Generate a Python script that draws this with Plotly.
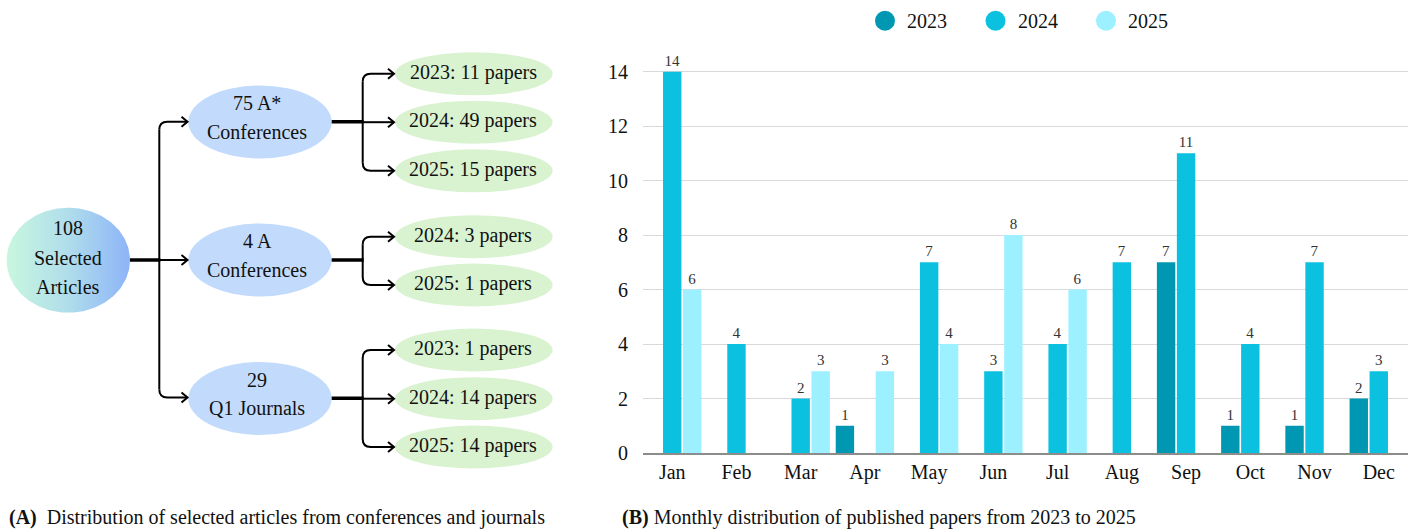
import plotly.graph_objects as go
import numpy as np

W, H = 1417, 529
FONT = "Liberation Serif"

# ---- monthly counts (panel B) ----
months = ["Jan", "Feb", "Mar", "Apr", "May", "Jun", "Jul", "Aug", "Sep", "Oct", "Nov", "Dec"]
papers_2023 = [0, 0, 0, 1, 0, 0, 0, 0, 7, 1, 1, 2]
papers_2024 = [14, 4, 2, 0, 7, 3, 4, 7, 11, 4, 7, 3]
papers_2025 = [6, 0, 3, 3, 4, 8, 6, 0, 0, 0, 0, 0]
year_names = ["2023", "2024", "2025"]
year_colors = ["#0097B2", "#0CC0DF", "#9DF0FF"]

# ---- venue breakdown (panel A) ----
astar_years = ["2023", "2024", "2025"]
astar_papers = [11, 49, 15]
a_years = ["2024", "2025"]
a_papers = [3, 1]
q1_years = ["2023", "2024", "2025"]
q1_papers = [1, 14, 14]

fig = go.Figure()

# grouped bars
for name, vals, col in zip(year_names, [papers_2023, papers_2024, papers_2025], year_colors):
    fig.add_trace(go.Bar(
        x=months,
        y=[v if v else None for v in vals],
        text=[str(v) if v else "" for v in vals],
        textposition="outside",
        textfont=dict(family=FONT, size=15, color="#333333"),
        marker=dict(color=col, line=dict(width=0)),
        cliponaxis=False,
        name=name,
        showlegend=False,
        xaxis="x", yaxis="y",
    ))

shapes = []
annotations = []

# legend (circles + labels)
leg_x0, leg_dx, leg_y = 885, 110.5, 20.7
for i, (name, col) in enumerate(zip(year_names, year_colors)):
    cx = leg_x0 + i * leg_dx
    shapes.append(dict(type="circle", xref="x2", yref="y2", x0=cx - 10, x1=cx + 10,
                       y0=leg_y - 10, y1=leg_y + 10, fillcolor=col, line=dict(width=0)))
    annotations.append(dict(x=cx + 20, y=leg_y, xref="x2", yref="y2", text=name,
                            showarrow=False, xanchor="left", yanchor="middle",
                            font=dict(family=FONT, size=20, color="#111111")))

# ---- diagram ----
def ellipse(cx, cy, rx, ry, color):
    shapes.append(dict(type="circle", xref="x2", yref="y2", x0=cx - rx, x1=cx + rx,
                       y0=cy - ry, y1=cy + ry, fillcolor=color, line=dict(width=0),
                       layer="below"))

def label(x, y, text, size=20):
    annotations.append(dict(x=x, y=y, xref="x2", yref="y2", text=text, showarrow=False,
                            xanchor="center", yanchor="middle",
                            font=dict(family=FONT, size=size, color="#111111")))

def line_path(path, width=2):
    shapes.append(dict(type="path", xref="x2", yref="y2", path=path,
                       line=dict(color="#000000", width=width)))

def bracket(x_from, y_from, x_v, child_ys, x_end, r=8):
    """Stem, rounded vertical spine and arrowed branches to each child."""
    top, bot = min(child_ys), max(child_ys)
    line_path(f"M {x_v},{top + r} L {x_v},{bot - r}")
    for y in child_ys:
        if y == top:
            line_path(f"M {x_v},{y + r} Q {x_v},{y} {x_v + r},{y} L {x_end},{y}")
        elif y == bot:
            line_path(f"M {x_v},{y - r} Q {x_v},{y} {x_v + r},{y} L {x_end},{y}")
        else:
            line_path(f"M {x_v},{y} L {x_end},{y}")
        line_path(f"M {x_end - 6},{y - 5} L {x_end},{y} L {x_end - 6},{y + 5}")
    line_path(f"M {x_from},{y_from} L {x_v + 1},{y_from}", width=3.5)

# root node with a horizontal gradient
root_cx, root_cy, root_rx, root_ry = 68.3, 260.2, 61.7, 52.5
t = np.linspace(0, 2 * np.pi, 200)
fig.add_trace(go.Scatter(
    x=root_cx + root_rx * np.cos(t), y=root_cy + root_ry * np.sin(t),
    mode="lines", line=dict(width=0), fill="toself",
    fillgradient=dict(type="horizontal",
                      colorscale=[[0, "#C8F7DF"], [0.5, "#B0DDEB"], [1, "#8DB4F8"]]),
    hoverinfo="skip", showlegend=False, xaxis="x2", yaxis="y2",
))
total = sum(astar_papers) + sum(a_papers) + sum(q1_papers)
label(68.3, 228.3, str(total))
label(68.3, 258.3, "Selected")
label(68.3, 287.3, "Articles")

mid_cx, mid_rx, mid_ry = 260, 71.7, 36.5
mid_ys = [122, 260, 398.5]
mid_lines = [
    (f"{sum(astar_papers)} A*", "Conferences"),
    (f"{sum(a_papers)} A", "Conferences"),
    (f"{sum(q1_papers)}", "Q1 Journals"),
]
for cy, (l1, l2) in zip(mid_ys, mid_lines):
    ellipse(mid_cx, cy, mid_rx, mid_ry, "#C2DBFC")
    label(257, cy - 18.7, l1)
    label(257, cy + 9.7, l2)

bracket(130, 260, 159.3, [121.7, 260, 397.5], 187.5)

leaf_cx, leaf_rx, leaf_ry = 473.8, 78.8, 21.5
leaf_groups = [
    (astar_years, astar_papers, [73.8, 122.2, 170.8], 121.7),
    (a_years, a_papers, [236.7, 285], 260),
    (q1_years, q1_papers, [350, 398.7, 447], 398.3),
]
for yrs, cnts, ys, stem_y in leaf_groups:
    for yr, c, cy in zip(yrs, cnts, ys):
        ellipse(leaf_cx, cy, leaf_rx, leaf_ry, "#D9F2D0")
        label(473.3, cy - 1.5, f"{yr}: {c} papers")
    bracket(331.7, stem_y, 362.7, ys, 394)

# captions
annotations.append(dict(x=6.7, y=517, xref="x2", yref="y2", showarrow=False,
                        xanchor="left", yanchor="middle",
                        text="<b>(A)</b>&nbsp; Distribution of selected articles from conferences and journals",
                        font=dict(family=FONT, size=20, color="#111111")))
annotations.append(dict(x=620, y=517, xref="x2", yref="y2", showarrow=False,
                        xanchor="left", yanchor="middle",
                        text="<b>(B)</b> Monthly distribution of published papers from 2023 to 2025",
                        font=dict(family=FONT, size=20, color="#111111")))

fig.update_layout(
    width=W, height=H,
    margin=dict(l=0, r=0, t=0, b=0, pad=0, autoexpand=False),
    paper_bgcolor="white", plot_bgcolor="rgba(0,0,0,0)",
    barmode="group", bargap=0.066, bargroupgap=0.08,
    font=dict(family=FONT, color="#111111"),
    xaxis=dict(domain=[643 / W, 1408 / W], range=[-0.455, 11.455], type="category",
               showgrid=False, showline=True, linecolor="#8C8C8C", linewidth=1.5,
               ticks="", tickfont=dict(family=FONT, size=20, color="#111111"),
               ticklabelstandoff=0, anchor="y", fixedrange=True, automargin=False),
    yaxis=dict(domain=[(H - 453) / H, (H - 44.4) / H], range=[0, 15], tick0=0, dtick=2,
               showgrid=True, gridcolor="#D9D9D9", gridwidth=1.2, zeroline=False,
               showline=False, ticks="", tickfont=dict(family=FONT, size=20, color="#111111"),
               ticklabelstandoff=14, anchor="x", fixedrange=True, automargin=False),
    xaxis2=dict(domain=[0, 1], range=[0, W], visible=False, anchor="y2",
                fixedrange=True, automargin=False),
    yaxis2=dict(domain=[0, 1], range=[H, 0], visible=False, anchor="x2",
                fixedrange=True, automargin=False),
    shapes=shapes,
    annotations=annotations,
    showlegend=False,
)

fig.write_html("out.html")
